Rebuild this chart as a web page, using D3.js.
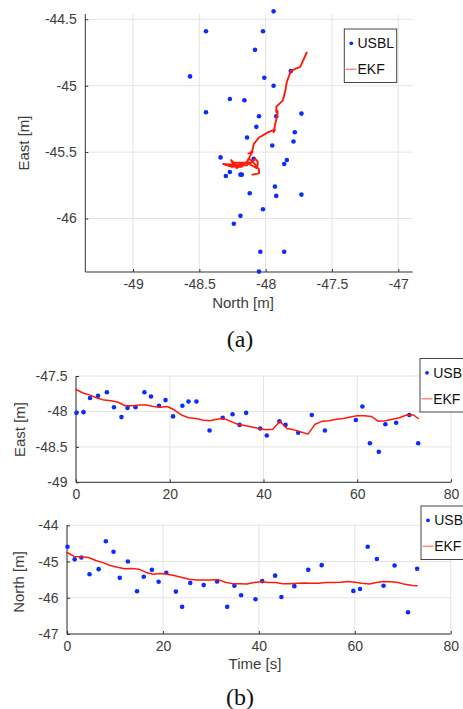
<!DOCTYPE html>
<html><head><meta charset="utf-8">
<script src="https://cdn.jsdelivr.net/npm/d3@7"></script>
<style>body{margin:0;background:#fff}svg{display:block}</style>
</head><body><svg id="c" width="463" height="709"></svg>
<script>
// ---------- data ----------
const usblTime = [0.1,1.6,3.0,4.7,6.6,8.1,9.7,11.0,12.7,14.6,16.0,17.7,19.1,20.7,22.7,24.0,25.7,28.5,31.3,33.4,34.9,36.3,39.3,40.7,43.4,44.7,47.4,50.3,53.1,59.7,61.1,62.7,64.6,66.0,68.3,71.1,73.0];
const usblEast = [-48.02,-48.01,-47.81,-47.78,-47.73,-47.94,-48.08,-47.95,-47.94,-47.73,-47.79,-47.92,-47.84,-48.07,-47.92,-47.86,-47.86,-48.27,-48.09,-48.04,-48.19,-48.02,-48.24,-48.34,-48.14,-48.19,-48.30,-48.05,-48.27,-48.12,-47.93,-48.45,-48.57,-48.18,-48.16,-48.05,-48.45];
const usblNorth = [-44.59,-44.94,-44.89,-45.35,-45.21,-44.44,-44.73,-45.45,-45.00,-45.82,-45.42,-45.23,-45.56,-45.31,-45.83,-46.25,-45.59,-45.65,-45.55,-46.25,-45.67,-45.93,-46.04,-45.54,-45.39,-45.98,-45.68,-45.23,-45.10,-45.81,-45.76,-44.59,-44.93,-45.67,-45.11,-46.40,-45.20];

const ekfTime = [0,1.5,3,4.5,6,7.5,9,10.5,12,13.5,15,16.5,18,19.5,21,22.5,24,25.5,27,28.5,30,31.5,33,34.5,36,37.5,39,40.5,42,43.5,45,46.5,48,49.5,51,52.5,54,55.5,57,58.5,60,61.5,63,64.5,66,67.5,69,70.5,72,73];
const ekfEast = [-47.69,-47.74,-47.77,-47.81,-47.84,-47.85,-47.87,-47.92,-47.92,-47.91,-47.91,-47.93,-47.94,-47.93,-47.98,-48.05,-48.09,-48.10,-48.12,-48.13,-48.11,-48.10,-48.14,-48.18,-48.20,-48.22,-48.24,-48.26,-48.25,-48.14,-48.24,-48.26,-48.29,-48.32,-48.18,-48.14,-48.13,-48.11,-48.10,-48.08,-48.06,-48.06,-48.07,-48.14,-48.13,-48.11,-48.09,-48.05,-48.05,-48.10];
const ekfNorth = [-44.75,-44.86,-44.87,-44.89,-44.97,-45.03,-45.11,-45.16,-45.20,-45.19,-45.21,-45.30,-45.35,-45.33,-45.35,-45.39,-45.44,-45.49,-45.51,-45.51,-45.51,-45.50,-45.57,-45.61,-45.61,-45.62,-45.58,-45.56,-45.58,-45.58,-45.61,-45.61,-45.60,-45.59,-45.60,-45.60,-45.58,-45.58,-45.57,-45.55,-45.57,-45.60,-45.62,-45.58,-45.55,-45.56,-45.58,-45.63,-45.66,-45.67];

const trackXTicks = [-49,-48.5,-48,-47.5,-47];
const trackYTicks = [-46,-45.5,-45,-44.5];
const timeTicks = [0,20,40,60,80];
const eastTicks = [-49,-48.5,-48,-47.5];
const northTicks = [-47,-46,-45,-44];
const legendLabels = ["USBL","EKF"];
const captions = ["(a)","(b)"];

// ---------- style ----------
const FONT = "'Liberation Sans', Arial, Helvetica, sans-serif";
const SERIF = "'Liberation Serif', 'Times New Roman', serif";
const BLUE = "#0a2cff", RED = "#ff1a0a", GRID = "#e4e4e4", AX = "#333", TXT = "#3d3d3d";

const svg = d3.select("#c");

function panel(cfg) {
  const g = svg.append("g");
  const x = d3.scaleLinear().domain(cfg.xd).range([cfg.L, cfg.R]);
  const y = d3.scaleLinear().domain(cfg.yd).range([cfg.B, cfg.T]);

  g.append("g").selectAll("line").data(cfg.xt).join("line")
    .attr("x1", d => x(d)).attr("x2", d => x(d)).attr("y1", cfg.T).attr("y2", cfg.B)
    .attr("stroke", GRID).attr("stroke-width", 1);
  g.append("g").selectAll("line").data(cfg.yt).join("line")
    .attr("y1", d => y(d)).attr("y2", d => y(d)).attr("x1", cfg.L).attr("x2", cfg.R)
    .attr("stroke", GRID).attr("stroke-width", 1);

  const fmt = d => String(d);
  const xa = g.append("g").attr("transform", `translate(0,${cfg.B})`)
    .call(d3.axisBottom(x).tickValues(cfg.xt).tickSize(-3).tickSizeOuter(0).tickPadding(7).tickFormat(fmt));
  const ya = g.append("g").attr("transform", `translate(${cfg.L},0)`)
    .call(d3.axisLeft(y).tickValues(cfg.yt).tickSize(-3).tickSizeOuter(0).tickPadding(8.5).tickFormat(fmt));
  [xa, ya].forEach(a => {
    a.select(".domain").attr("stroke", AX);
    a.selectAll(".tick line").attr("stroke", AX);
    a.selectAll("text").attr("font-family", FONT).attr("font-size", 14).attr("fill", TXT);
  });
  ya.select(".domain").attr("d", `M0,${cfg.B}V${cfg.T}`);
  xa.select(".domain").attr("d", `M${cfg.L},0H${cfg.R}`);

  g.append("g").selectAll("circle").data(cfg.pts).join("circle")
    .attr("cx", d => x(d[0])).attr("cy", d => y(d[1])).attr("r", 2.3).attr("fill", BLUE);

  g.append("path").datum(cfg.line)
    .attr("d", d3.line().x(d => x(d[0])).y(d => y(d[1])))
    .attr("fill", "none").attr("stroke", RED).attr("stroke-width", cfg.lw || 1.5)
    .attr("stroke-linejoin", "round").attr("stroke-linecap", "round");

  if (cfg.xLabel) g.append("text").attr("x", cfg.xLabel[1]).attr("y", cfg.xLabel[2])
    .attr("text-anchor", "middle").attr("font-family", FONT).attr("font-size", 15).attr("fill", TXT).text(cfg.xLabel[0]);
  if (cfg.yLabel) g.append("text").attr("transform", `translate(${cfg.yLabel[1]},${cfg.yLabel[2]}) rotate(-90)`)
    .attr("text-anchor", "middle").attr("font-family", FONT).attr("font-size", 15).attr("fill", TXT).text(cfg.yLabel[0]);

  // legend
  const lg = g.append("g").attr("transform", `translate(${cfg.leg[0]},${cfg.leg[1]})`);
  lg.append("rect").attr("x", 0).attr("y", 0).attr("width", 52.4).attr("height", 53.5)
    .attr("fill", "#fff").attr("stroke", "#444").attr("stroke-width", 1);
  lg.append("circle").attr("cx", 7).attr("cy", 14.3).attr("r", 1.9).attr("fill", BLUE);
  lg.append("line").attr("x1", 1.5).attr("x2", 12.4).attr("y1", 40.3).attr("y2", 40.3)
    .attr("stroke", "#ff8a80").attr("stroke-width", 1.5);
  lg.selectAll("text").data(legendLabels).join("text")
    .attr("x", 13.2).attr("y", (d, i) => 19.3 + i * 26)
    .attr("font-family", FONT).attr("font-size", 14).attr("fill", "#111").text(d => d);
}

// (a) trajectory
panel({
  L: 85.3, R: 412.7, T: 14, B: 272,
  xd: [-49.36, -46.891], yd: [-46.403, -44.46],
  xt: trackXTicks, yt: trackYTicks,
  pts: usblEast.map((e, i) => [e, usblNorth[i]]),
  line: ekfEast.map((e, i) => [e, ekfNorth[i]]),
  lw: 1.9,
  xLabel: ["North [m]", 243, 308], yLabel: ["East [m]", 28.5, 143],
  leg: [344.3, 29]
});

// (b) top: East vs time
panel({
  L: 76, R: 451, T: 376, B: 482.3,
  xd: [0, 80], yd: [-49, -47.5],
  xt: timeTicks, yt: eastTicks,
  pts: usblTime.map((t, i) => [t, usblEast[i]]),
  line: ekfTime.map((t, i) => [t, ekfEast[i]]),
  yLabel: ["East [m]", 24.5, 429.5],
  leg: [420, 358.5]
});

// (b) bottom: North vs time
panel({
  L: 67, R: 450.7, T: 525.3, B: 634,
  xd: [0, 80], yd: [-47, -44],
  xt: timeTicks, yt: northTicks,
  pts: usblTime.map((t, i) => [t, usblNorth[i]]),
  line: ekfTime.map((t, i) => [t, ekfNorth[i]]),
  xLabel: ["Time [s]", 255, 669], yLabel: ["North [m]", 23.5, 582],
  leg: [421, 506]
});

svg.selectAll(".cap").data(captions).join("text").attr("class", "cap")
  .attr("x", 240).attr("y", (d, i) => i === 0 ? 347 : 705)
  .attr("text-anchor", "middle").attr("font-family", SERIF).attr("font-size", 24).attr("fill", "#111")
  .text(d => d);
</script>
</body></html>
